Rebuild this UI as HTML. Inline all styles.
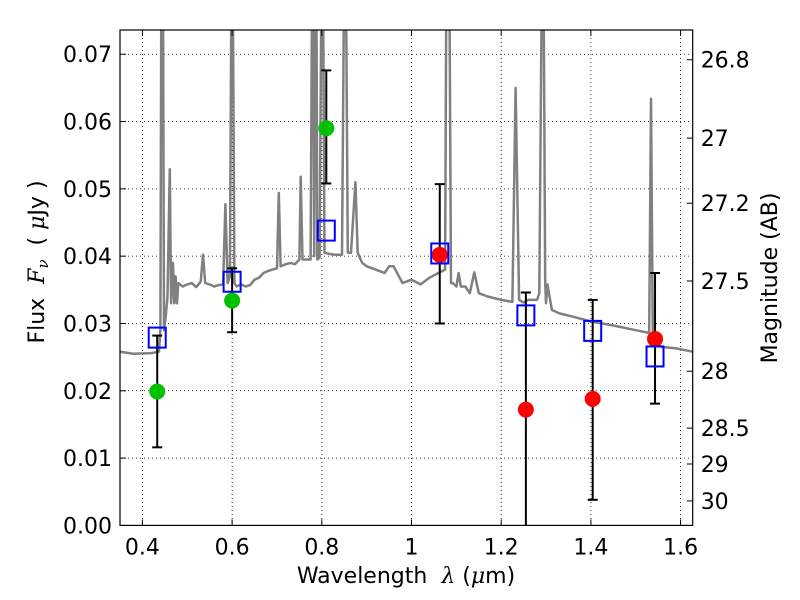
<!DOCTYPE html>
<html><head><meta charset="utf-8"><style>
body{margin:0;background:#fff}
svg{display:block;font-family:"DejaVu Sans","Liberation Sans",sans-serif}
</style></head><body>
<svg id="chart" width="800" height="600" viewBox="0 0 800 600" xmlns="http://www.w3.org/2000/svg"></svg>
<script>
const specX=[0.35,0.38,0.42,0.437,0.44,0.443,0.445,0.448,0.452,0.456,0.461,0.464,0.468,0.471,0.474,0.477,0.48,0.49,0.5,0.51,0.52,0.53,0.535,0.54,0.55,0.56,0.57,0.58,0.585,0.59,0.595,0.6,0.605,0.61,0.62,0.63,0.64,0.65,0.66,0.67,0.68,0.69,0.70,0.704,0.708,0.72,0.73,0.74,0.75,0.753,0.757,0.77,0.775,0.78,0.783,0.787,0.79,0.795,0.801,0.806,0.82,0.83,0.845,0.852,0.858,0.865,0.875,0.88,0.89,0.90,0.92,0.94,0.95,0.96,0.98,1.0,1.02,1.04,1.06,1.075,1.079,1.083,1.088,1.092,1.1,1.105,1.11,1.12,1.13,1.14,1.15,1.17,1.2,1.225,1.232,1.24,1.25,1.26,1.28,1.285,1.293,1.298,1.30,1.303,1.313,1.33,1.36,1.4,1.45,1.5,1.53,1.534,1.538,1.545,1.56,1.59,1.627];
const specY=[0.0258,0.0255,0.0256,0.0258,0.029,0.1,0.1,0.029,0.031,0.034,0.0529,0.033,0.039,0.033,0.037,0.033,0.036,0.0355,0.0358,0.036,0.0354,0.0362,0.0402,0.036,0.0358,0.0355,0.0357,0.0358,0.0477,0.036,0.037,0.1,0.036,0.0355,0.0358,0.0355,0.0357,0.0365,0.0368,0.0375,0.0378,0.038,0.0382,0.0494,0.0385,0.0388,0.039,0.0388,0.0395,0.0518,0.0395,0.0395,0.0395,0.1,0.04,0.1,0.0395,0.0398,0.1,0.0405,0.0403,0.0402,0.0402,0.1,0.0405,0.0405,0.051,0.0405,0.039,0.0385,0.038,0.0375,0.0385,0.0385,0.036,0.0365,0.0358,0.0368,0.0375,0.038,0.1,0.1,0.036,0.036,0.0355,0.0375,0.0355,0.0355,0.0345,0.0376,0.0345,0.034,0.0335,0.0332,0.065,0.0335,0.0331,0.0335,0.0335,0.0345,0.1,0.036,0.033,0.0358,0.032,0.0315,0.031,0.0303,0.0297,0.029,0.0286,0.0634,0.0286,0.0268,0.0265,0.0263,0.0258];
const photX=[0.433,0.600,0.810,1.063,1.255,1.404,1.543];
const photY=[0.0199,0.0334,0.0590,0.0402,0.0172,0.0188,0.0277];
const errLo=[0.0116,0.0287,0.0508,0.0300,-0.01,0.0038,0.0181];
const errHi=[0.0282,0.0382,0.0676,0.0507,0.0346,0.0335,0.0375];
const photColor=["#00c000","#00c000","#00c000","#ff0000","#ff0000","#ff0000","#ff0000"];
const modelY=[0.0279,0.0362,0.0438,0.0404,0.0312,0.0289,0.0251];
const xTicks=[0.4,0.6,0.8,1.0,1.2,1.4,1.6];
const xTickLabels=["0.4","0.6","0.8","1","1.2","1.4","1.6"];
const yTicks=[0,0.01,0.02,0.03,0.04,0.05,0.06,0.07];
const yTickLabels=["0.00","0.01","0.02","0.03","0.04","0.05","0.06","0.07"];
const magTicks=[26.8,27,27.2,27.5,28,28.5,29,30];
const magLabels=["26.8","27","27.2","27.5","28","28.5","29","30"];

const L=120,R=692.7,T=30,B=525.4,X0=0.35,X1=1.627,Y0=0,Y1=0.0736;
const sx=v=>L+(v-X0)/(X1-X0)*(R-L);
const sy=v=>B-(v-Y0)/(Y1-Y0)*(B-T);
const magToFlux=m=>Math.pow(10,(23.9-m)/2.5);
const svg=document.getElementById('chart');
const NS="http://www.w3.org/2000/svg";
function mk(tag,attrs,parent){const e=document.createElementNS(NS,tag);for(const k in attrs)e.setAttribute(k,attrs[k]);(parent||svg).appendChild(e);return e;}

const defs=mk('defs',{});
const cp=mk('clipPath',{id:'clip'},defs);
mk('rect',{x:L,y:T,width:R-L,height:B-T},cp);

const grid=mk('g',{});


xTicks.forEach(v=>mk('line',{x1:sx(v),x2:sx(v),y1:T,y2:B,stroke:'#000','stroke-width':0.8,'stroke-dasharray':'1,3'},grid));
yTicks.forEach(v=>mk('line',{x1:L,x2:R,y1:sy(v),y2:sy(v),stroke:'#000','stroke-width':0.8,'stroke-dasharray':'1,3'},grid));

const pts=specX.map((x,i)=>sx(x).toFixed(1)+','+sy(specY[i]).toFixed(1)).join(' ');
const sp=mk('polyline',{points:pts,fill:'none',stroke:'#808080','stroke-width':2.5,'stroke-linejoin':'round','clip-path':'url(#clip)'});



photX.forEach((x,i)=>{
  const g=mk('g',{'clip-path':'url(#clip)'});
  
  
  const cx=sx(x);
  mk('line',{x1:cx,x2:cx,y1:sy(errLo[i]),y2:sy(errHi[i]),stroke:'#000','stroke-width':2},g);
  mk('line',{x1:cx-5,x2:cx+5,y1:sy(errLo[i]),y2:sy(errLo[i]),stroke:'#000','stroke-width':2},g);
  mk('line',{x1:cx-5,x2:cx+5,y1:sy(errHi[i]),y2:sy(errHi[i]),stroke:'#000','stroke-width':2},g);
});
photX.forEach((x,i)=>{
  const c=mk('circle',{cx:sx(x),cy:sy(photY[i]),r:8,fill:photColor[i]});
  
  
});
photX.forEach((x,i)=>{
  const r=mk('rect',{x:sx(x)-8.5,y:sy(modelY[i])-10,width:17,height:20,fill:'none',stroke:'#0000ff','stroke-width':2});
  
  
});

const fr=mk('rect',{x:L,y:T,width:R-L,height:B-T,fill:'none',stroke:'#000','stroke-width':1.2});



xTicks.forEach((v,i)=>{
  mk('line',{x1:sx(v),x2:sx(v),y1:B,y2:B-6,stroke:'#000'});
  mk('line',{x1:sx(v),x2:sx(v),y1:T,y2:T+6,stroke:'#000'});
  const t=mk('text',{x:sx(v),y:B+29,'text-anchor':'middle','font-size':22});
  t.textContent=xTickLabels[i];
  
  
});
yTicks.forEach((v,i)=>{
  mk('line',{x1:L,x2:L+6,y1:sy(v),y2:sy(v),stroke:'#000'});
  const t=mk('text',{x:L-8,y:sy(v)+8,'text-anchor':'end','font-size':22});
  t.textContent=yTickLabels[i];
  
  
});
magTicks.forEach((m,i)=>{
  const y=sy(magToFlux(m));
  mk('line',{x1:R,x2:R-6,y1:y,y2:y,stroke:'#000'});
  const t=mk('text',{x:R+8,y:y+8,'font-size':22});
  t.textContent=magLabels[i];
  
  
});

const xt=mk('text',{x:406,y:583,'text-anchor':'middle','font-size':22});
xt.innerHTML='Wavelength&#160;&#160;<tspan font-style="italic" font-family="DejaVu Serif, serif">λ</tspan> (<tspan font-style="italic" font-family="DejaVu Serif, serif">μ</tspan>m)';


const yt=mk('text',{x:0,y:0,'text-anchor':'middle','font-size':22,transform:'translate(44,262) rotate(-90)'});
yt.innerHTML='Flux&#160;&#160;<tspan font-style="italic" font-family="DejaVu Serif, serif">F</tspan><tspan font-style="italic" font-family="DejaVu Serif, serif" font-size="15" dy="4">ν</tspan><tspan dy="-4">&#160;&#160;( </tspan><tspan font-style="italic" font-family="DejaVu Serif, serif">μ</tspan>Jy )';


const rt=mk('text',{x:0,y:0,'text-anchor':'middle','font-size':22,transform:'translate(777,278) rotate(-90)'});
rt.textContent='Magnitude (AB)';


</script>
</body></html>
